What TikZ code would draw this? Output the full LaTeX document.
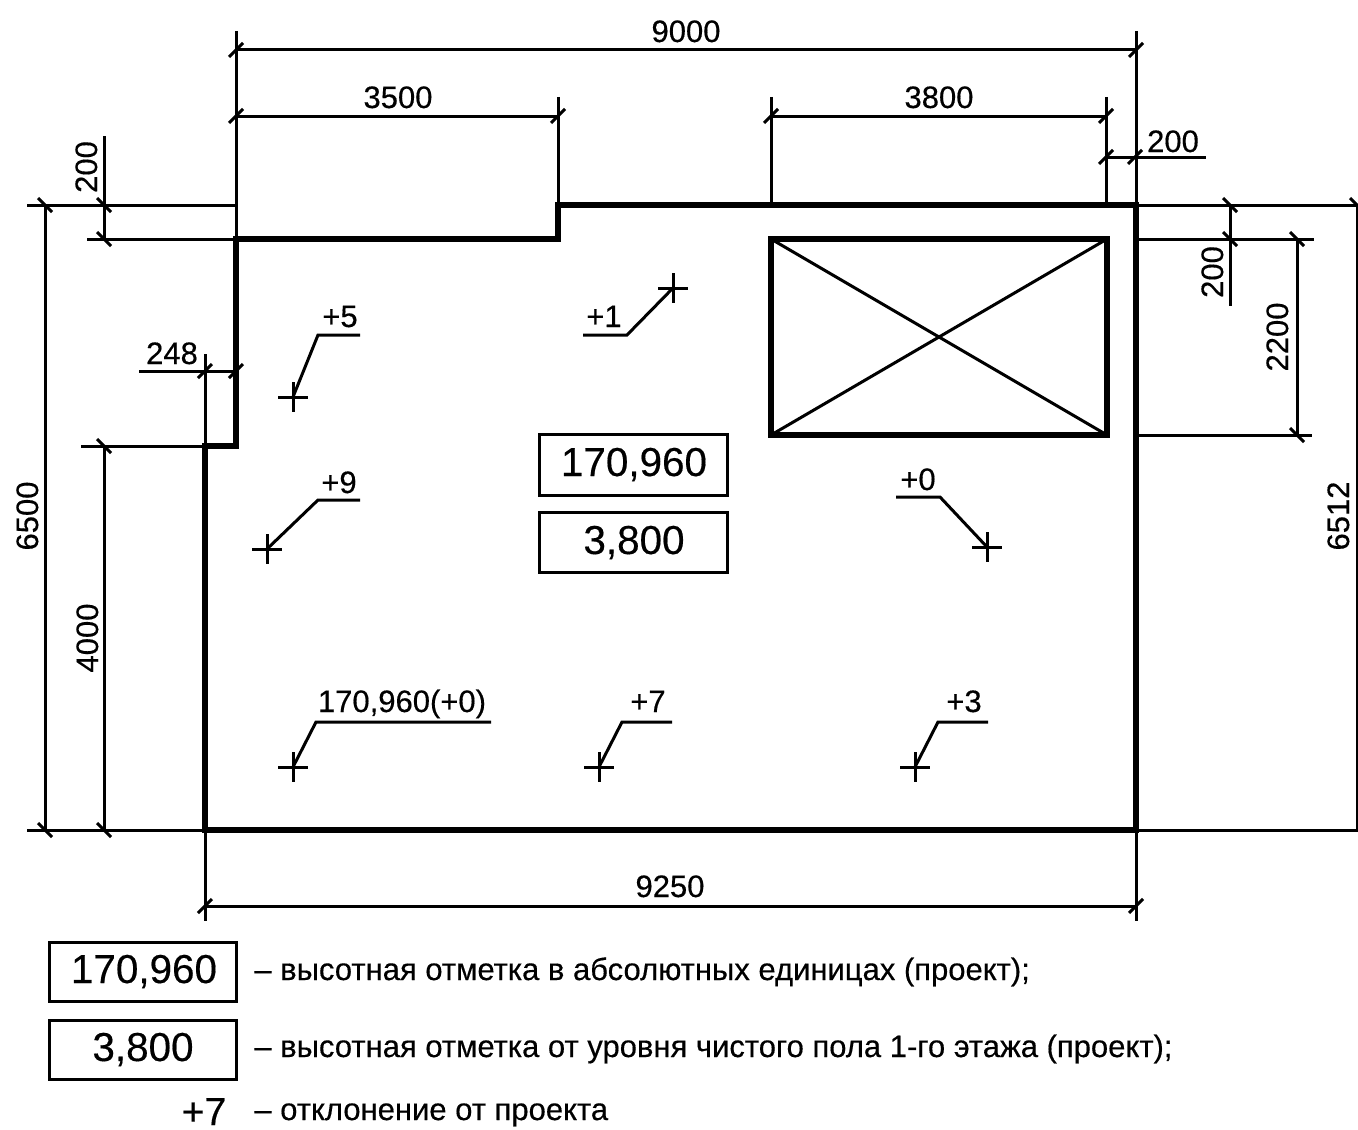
\documentclass[tikz,border=0pt]{standalone}
\usepackage{fontspec}
\setmainfont[FakeBold=0.4]{Liberation Sans}
\newcommand{\htick}[1]{\draw[connect] (#1) +(-7,7) -- +(7,-7);}
\newcommand{\vtick}[1]{\draw[connect] (#1) +(-7,-7) -- +(7,7);}
\newcommand{\crossmark}[1]{\draw[connect] (#1) +(-15,0) -- +(15,0) +(0,-15) -- +(0,15);}

\begin{document}
\begin{tikzpicture}[x=0.5pt,y=-0.5pt]
		\tikzstyle{connect}=[line width=1.5pt, line cap=butt]
		\tikzstyle{wall}=[line width=2.9pt, line join=miter]
		\tikzstyle{box}=[rectangle, draw=black, line width=1.5pt]
		\tikzstyle{dim}=[inner sep=0pt, anchor=base, font=\fontsize{15.5}{18}\selectfont]
		\tikzstyle{vdim}=[dim, rotate=90]
		\tikzstyle{level}=[inner sep=0pt, anchor=base, font=\fontsize{20.2}{23}\selectfont]
		\tikzstyle{legend}=[inner sep=0pt, anchor=base west, font=\fontsize{15.5}{18}\selectfont]
		\useasboundingbox (0,0) rectangle (1358,1129);
		
		% contour
		\coordinate (w1) at (236,239);
		\coordinate (w2) at (558,239);
		\coordinate (w3) at (558,205);
		\coordinate (w4) at (1136,205);
		\coordinate (w5) at (1136,830);
		\coordinate (w6) at (205,830);
		\coordinate (w7) at (205,446);
		\coordinate (w8) at (236,446);
		\draw[wall] (w1) -- (w2) -- (w3) -- (w4) -- (w5) -- (w6) -- (w7) -- (w8) -- cycle;
		
		% opening
		\coordinate (o1) at (771,239);
		\coordinate (o2) at (1107,239);
		\coordinate (o3) at (1107,435);
		\coordinate (o4) at (771,435);
		\draw[wall] (o1) -- (o2) -- (o3) -- (o4) -- cycle;
		\path 
		(o1) edge [connect] (o3)
		(o2) edge [connect] (o4)
		;
		
		% extension lines
		\draw[connect] (236,31) -- (w1);
		\draw[connect] (1136,31) -- (w4);
		\draw[connect] (558,97) -- (w3);
		\draw[connect] (771,97) -- (771,205);
		\draw[connect] (1106,97) -- (1106,205);
		\draw[connect] (27,205) -- (236,205);
		\draw[connect] (87,239) -- (w1);
		\draw[connect] (81,446) -- (w7);
		\draw[connect] (27,830) -- (w6);
		\draw[connect] (w6) -- (205,921);
		\draw[connect] (w5) -- (1136,921);
		\draw[connect] (205,354) -- (w7);
		\draw[connect] (w4) -- (1357,205) -- (1357,830) -- (w5);
		\draw[connect] (1136,239) -- (1314,239);
		\draw[connect] (1136,435) -- (1312,435);
		
		% dimension lines
		\draw[connect] (236,50) -- (1136,50);
		\draw[connect] (236,116) -- (558,116);
		\draw[connect] (771,116) -- (1106,116);
		\draw[connect] (1106,157) -- (1206,157);
		\draw[connect] (139,371) -- (236,371);
		\draw[connect] (205,906) -- (1136,906);
		\draw[connect] (45,205) -- (45,830);
		\draw[connect] (104,136) -- (104,239);
		\draw[connect] (104,446) -- (104,830);
		\draw[connect] (1230,205) -- (1230,306);
		\draw[connect] (1297,239) -- (1297,435);
		
		% ticks
		\htick{236,50} \htick{1136,50}
		\htick{236,116} \htick{558,116}
		\htick{771,116} \htick{1106,116}
		\htick{1106,157} \htick{1135,157}
		\htick{205,371} \htick{236,371}
		\htick{205,906} \htick{1136,906}
		\vtick{45,205} \vtick{45,830}
		\vtick{104,205} \vtick{104,239}
		\vtick{104,446} \vtick{104,830}
		\vtick{1230,205} \vtick{1230,239}
		\vtick{1297,239} \vtick{1297,435}
		\vtick{1357,205}
		
		% dimension values
		\node[dim] (d9000) at (686,42) {9000};
		\node[dim] (d3500) at (398,108) {3500};
		\node[dim] (d3800) at (939,108) {3800};
		\node[dim] (d200t) at (1173,152) {200};
		\node[dim] (d248) at (172,364) {248};
		\node[dim] (d9250) at (670,897) {9250};
		\node[vdim] (d200l) at (97,167) {200};
		\node[vdim] (d6500) at (38,516) {6500};
		\node[vdim] (d4000) at (98,638) {4000};
		\node[vdim] (d200r) at (1223,272) {200};
		\node[vdim] (d2200) at (1288,337) {2200};
		\node[vdim] (d6512) at (1349,516) {6512};
		
		% level points
		\coordinate (p5) at (293,397);
		\coordinate (p1) at (673,288);
		\coordinate (p9) at (267,549);
		\coordinate (p0) at (987,547);
		\coordinate (pa) at (293,767);
		\coordinate (p7) at (599,767);
		\coordinate (p3) at (915,767);
		\crossmark{p5} \crossmark{p1} \crossmark{p9} \crossmark{p0} \crossmark{pa} \crossmark{p7} \crossmark{p3}
		\draw[connect] (p5) -- (318,335) -- (360,335);
		\draw[connect] (p1) -- (627,335) -- (583,335);
		\draw[connect] (p9) -- (318,500) -- (360,500);
		\draw[connect] (p0) -- (940,497) -- (896,497);
		\draw[connect] (pa) -- (316,722) -- (491,722);
		\draw[connect] (p7) -- (622,722) -- (672,722);
		\draw[connect] (p3) -- (938,722) -- (988,722);
		
		\node[dim] (l5) at (340,327) {+5};
		\node[dim] (l1) at (604,327) {+1};
		\node[dim] (l9) at (339,493) {+9};
		\node[dim] (l0) at (918,490) {+0};
		\node[dim] (la) at (402,712) {170,960(+0)};
		\node[dim] (l7) at (648,712) {+7};
		\node[dim] (l3) at (964,712) {+3};
		
		% level boxes
		\draw[box] (539,434) rectangle (727,495);
		\draw[box] (539,512) rectangle (727,572);
		\node[level] (abs) at (634,476) {170,960};
		\node[level] (rel) at (634,554) {3,800};
		
		% legend
		\draw[box] (49,942) rectangle (236,1001);
		\draw[box] (49,1020) rectangle (236,1079);
		\node[level] (kabs) at (144,983) {170,960};
		\node[level] (krel) at (143,1061) {3,800};
		\node[level, font=\fontsize{19.5}{22}\selectfont] (kdev) at (204,1125) {+7};
		\node[legend] (tabs) at (254,980) {– высотная отметка в абсолютных единицах (проект);};
		\node[legend] (trel) at (254,1057) {– высотная отметка от уровня чистого пола 1-го этажа (проект);};
		\node[legend] (tdev) at (254,1120) {– отклонение от проекта};
\end{tikzpicture}
\end{document}
